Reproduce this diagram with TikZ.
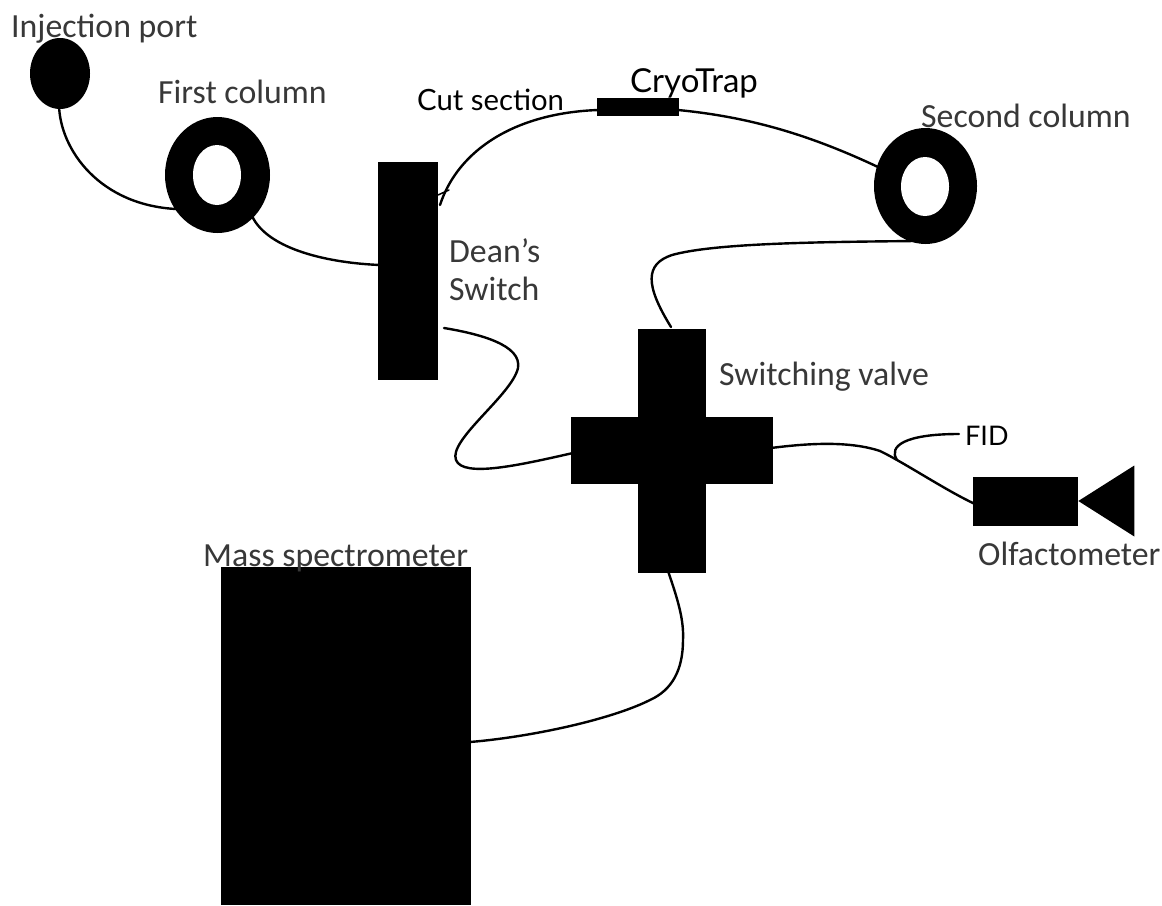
\documentclass[tikz,border=0pt]{standalone}
\usepackage{fontspec}
\setmainfont{Carlito}
\newfontfamily\gill{Lato}
\usetikzlibrary{shapes.geometric}
\definecolor{labgray}{gray}{0.22}
\newcommand{\labfont}[1]{\fontsize{#1}{#1}\selectfont}
\tikzset{
  lab/.style={inner sep=0pt,text=labgray,font=\labfont{33.8}},
  labb/.style={inner sep=0pt,text=black,font=\gill\labfont{#1}},
  solid box/.style={fill=black,draw=none,inner sep=0pt},
  tube/.style={draw=black,line width=2.4pt,line cap=round},
  hole/.style={fill=white,draw=none,ellipse,inner sep=0pt}
}
\begin{document}
\begin{tikzpicture}[x=1pt,y=-1pt]
\useasboundingbox (0,0) rectangle (1162,905);
\fill[white] (0,0) rectangle (1162,905);
% tubes
\coordinate (a1) at (59,105);
\coordinate (a2) at (176,209);
\coordinate (b1) at (252,216);
\coordinate (b2) at (380,265);
\coordinate (d1) at (440,205);
\coordinate (d2) at (598,110);
\coordinate (d3) at (438,195);
\coordinate (d4) at (449,190);
\coordinate (e1) at (678,110);
\coordinate (e2) at (878,167);
\coordinate (f1) at (915,241);
\coordinate (f2) at (671,327);
\coordinate (g1) at (444,328);
\coordinate (g2) at (573,453);
\coordinate (h1) at (771,448);
\coordinate (h2) at (975,504);
\coordinate (i1) at (897,460);
\coordinate (i2) at (959,434);
\coordinate (j1) at (668,571);
\coordinate (j2) at (470,742);
\draw[tube] (a1) .. controls (60,150) and (100,205) .. (a2);
\draw[tube] (b1) .. controls (268,250) and (330,263) .. (b2);
\draw[tube] (d1) .. controls (458,150) and (515,113) .. (d2);
\draw[tube,line width=1.5pt] (d3) -- (d4);
\draw[tube] (e1) .. controls (750,117) and (810,135) .. (e2);
\draw[tube] (f1) .. controls (820,242) and (715,243) .. (672,255) .. controls (645,264) and (645,285) .. (f2);
\draw[tube] (g1) .. controls (480,334) and (522,345) .. (518,368) .. controls (512,395) and (448,440) .. (456,460) .. controls (463,478) and (520,465) .. (g2);
\draw[tube] (h1) .. controls (810,443) and (850,441) .. (880,451) .. controls (905,463) and (945,490) .. (h2);
\draw[tube] (i1) .. controls (888,446) and (905,434) .. (i2);
\draw[tube] (j1) .. controls (678,600) and (684,620) .. (683,640) .. controls (683,670) and (672,690) .. (650,700) .. controls (610,720) and (530,737) .. (j2);
% shapes
\node[solid box,ellipse,minimum width=60,minimum height=71] (inj) at (60,73.5) {};
\node[solid box,ellipse,minimum width=105,minimum height=116] (c1o) at (217.5,175) {};
\node[hole,minimum width=48,minimum height=60] (c1i) at (217,175) {};
\node[solid box,minimum width=60,minimum height=218] (dean) at (408,271) {};
\node[solid box,minimum width=82,minimum height=18] (cryo) at (638,107) {};
\node[solid box,ellipse,minimum width=103,minimum height=116] (c2o) at (925.5,186) {};
\node[hole,minimum width=48,minimum height=59] (c2i) at (925,186.5) {};
\node[solid box,minimum width=68,minimum height=244] (vv) at (672,451) {};
\node[solid box,minimum width=202,minimum height=67] (vh) at (672,450.5) {};
\node[solid box,minimum width=105,minimum height=49] (olf) at (1025.5,501.5) {};
\node[solid box,isosceles triangle,isosceles triangle apex angle=77,isosceles triangle stretches,shape border rotate=180,minimum width=71,minimum height=56,anchor=apex] (horn) at (1078,501) {};
\node[solid box,minimum width=250,minimum height=338,anchor=north west] (ms) at (221,567) {};
% labels
\node[lab,anchor=base west] (t1) at (11,37) {Injection port};
\node[lab,anchor=base west] (t2) at (158,103) {First column};
\node[labb=29.3,anchor=base west] (t3) at (417,110) {Cut section};
\node[labb=33,anchor=base west] (t4) at (630,92) {CryoTrap};
\node[lab,anchor=base west] (t5) at (921,127) {Second column};
\node[lab,anchor=base west] (t6) at (449,262) {Dean’s};
\node[lab,anchor=base west] (t7) at (449,300) {Switch};
\node[lab,anchor=base west] (t8) at (719,385) {Switching valve};
\node[labb=27,anchor=base west] (t9) at (965,445) {FID};
\node[lab,anchor=base west] (t10) at (978,565) {Olfactometer};
\node[lab,anchor=base west] (t11) at (203,566) {Mass spectrometer};
\end{tikzpicture}
\end{document}
